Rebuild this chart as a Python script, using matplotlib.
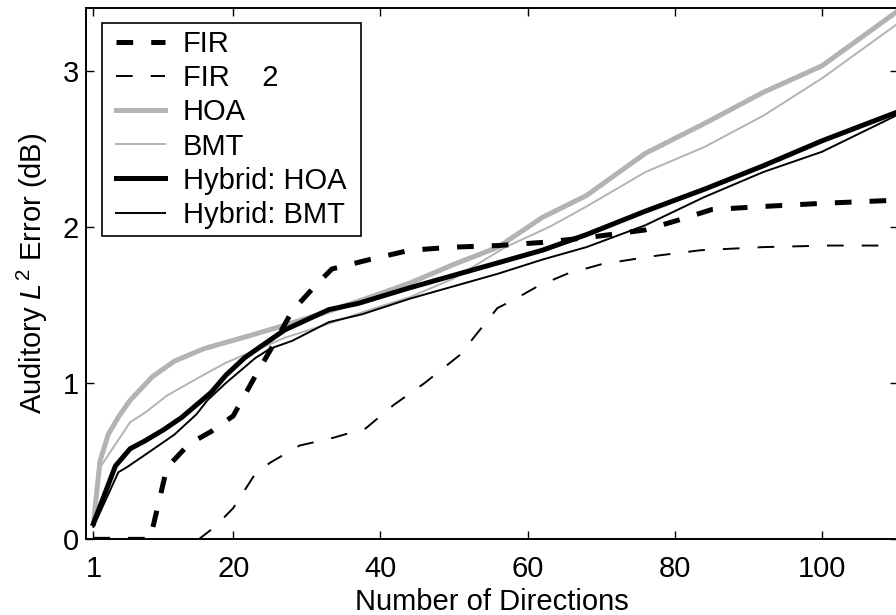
import matplotlib
matplotlib.use("Agg")
import matplotlib.pyplot as plt
from matplotlib.patches import Rectangle

plt.rcParams['font.family'] = ['Liberation Sans', 'DejaVu Sans']
plt.rcParams['mathtext.fontset'] = 'custom'
plt.rcParams['mathtext.rm'] = 'Liberation Sans'
plt.rcParams['mathtext.it'] = 'Liberation Sans:italic'
plt.rcParams['lines.scale_dashes'] = False

# ---- data ----
fir_x = [1, 8.7, 11, 14, 17, 20, 22.7, 25.4, 28, 30.9, 33.4, 38.5, 44, 50, 56, 62, 68, 76, 81, 85, 92, 100, 110]
fir_y = [0, 0, 0.46, 0.61, 0.69, 0.79, 1.02, 1.24, 1.46, 1.61, 1.73, 1.79, 1.85, 1.87, 1.88, 1.90, 1.93, 1.98, 2.05, 2.11, 2.13, 2.15, 2.17]

fir2_x = [1, 15.3, 17.5, 20, 23, 25, 29, 33.6, 38, 41.8, 46, 50.8, 53, 55.9, 58, 61.4, 65.4, 70, 76.7, 83.5, 92, 101, 110]
fir2_y = [0, 0, 0.08, 0.20, 0.42, 0.49, 0.60, 0.65, 0.71, 0.86, 1.00, 1.18, 1.31, 1.48, 1.53, 1.62, 1.70, 1.76, 1.81, 1.85, 1.87, 1.88, 1.88]

hoa_x = [1, 1.9, 3, 4.5, 6, 9, 12, 16, 19, 22, 27, 33, 38, 44, 50, 56, 62, 68, 76, 84, 92, 100, 110]
hoa_y = [0.10, 0.50, 0.67, 0.79, 0.89, 1.04, 1.14, 1.22, 1.26, 1.30, 1.37, 1.46, 1.54, 1.64, 1.76, 1.87, 2.06, 2.20, 2.47, 2.66, 2.86, 3.03, 3.37]

bmt_x = [1, 1.9, 6, 8, 11, 15.5, 19, 22, 27, 33, 38, 44, 50, 57, 63, 68, 76, 84, 92, 100, 110]
bmt_y = [0.10, 0.46, 0.75, 0.81, 0.92, 1.04, 1.13, 1.19, 1.29, 1.38, 1.46, 1.55, 1.67, 1.87, 2.00, 2.13, 2.35, 2.51, 2.71, 2.95, 3.29]

hyb_hoa_x = [1, 4, 6, 8, 10.5, 13, 15, 17, 19, 21.5, 23, 27, 33, 37, 44, 50, 56, 62, 68, 76, 84, 92, 100, 110]
hyb_hoa_y = [0.10, 0.47, 0.58, 0.63, 0.70, 0.78, 0.86, 0.94, 1.05, 1.16, 1.21, 1.34, 1.47, 1.51, 1.61, 1.69, 1.77, 1.85, 1.95, 2.10, 2.24, 2.39, 2.55, 2.73]

hyb_bmt_x = [1, 4.4, 5.5, 8, 12, 15, 16.5, 19, 21.5, 23, 25, 28, 33, 37.5, 44, 50, 56, 62, 68, 76, 84, 92, 100, 110]
hyb_bmt_y = [0.08, 0.43, 0.46, 0.54, 0.67, 0.80, 0.89, 1.00, 1.10, 1.16, 1.22, 1.27, 1.39, 1.44, 1.54, 1.62, 1.70, 1.79, 1.87, 2.01, 2.19, 2.35, 2.48, 2.71]

labels = ["FIR", "FIR    2", "HOA", "BMT", "Hybrid: HOA", "Hybrid: BMT"]
x_ticks = [1, 20, 40, 60, 80, 100]
y_ticks = [0, 1, 2, 3]

gray = '#b3b3b3'
FS = 21

fig = plt.figure(figsize=(8.96, 6.15), dpi=100)
ax = fig.add_axes([0.096, 0.123, 0.906, 0.864])

l1, = ax.plot(fir_x, fir_y, color='k', lw=3.6, dashes=(12, 13), zorder=3)
l2, = ax.plot(fir2_x, fir2_y, color='k', lw=1.4, dashes=(12, 13), zorder=3)
l3, = ax.plot(hoa_x, hoa_y, color=gray, lw=3.6, zorder=2)
l4, = ax.plot(bmt_x, bmt_y, color=gray, lw=1.4, zorder=2)
l5, = ax.plot(hyb_hoa_x, hyb_hoa_y, color='k', lw=3.6, zorder=4)
l6, = ax.plot(hyb_bmt_x, hyb_bmt_y, color='k', lw=1.4, zorder=4)

ax.set_xlim(0, 110.3)
ax.set_ylim(0, 3.4)
ax.set_xticks(x_ticks)
ax.set_yticks(y_ticks)
ax.tick_params(direction='in', length=6, width=1.0, top=True, right=True, labelsize=FS)
ax.tick_params(axis='x', pad=11)
ax.tick_params(axis='y', pad=5)
for s in ax.spines.values():
    s.set_linewidth(1.4)

ax.set_xlabel("Number of Directions", fontsize=FS, labelpad=4)
ax.set_ylabel("Auditory $\\mathit{L}^2$ Error (dB)", fontsize=FS, labelpad=9)

leg = ax.legend([l1, l2, l3, l4, l5, l6], labels, loc='upper left',
                bbox_to_anchor=(0.0283, 0.972), borderaxespad=0, fontsize=FS,
                frameon=False, handlelength=1.67,
                handletextpad=0.62, labelspacing=0.21, borderpad=0.25)
leg.set_zorder(6)

# frame around the legend, padded a little more horizontally than vertically
fig.canvas.draw()
bb = leg.get_window_extent().transformed(fig.transFigure.inverted())
dx = 7.0 / fig.bbox.width
frame = Rectangle((bb.x0 - dx, bb.y0), bb.width + 2 * dx, bb.height,
                  transform=fig.transFigure, facecolor='white', edgecolor='k',
                  linewidth=1.2, zorder=5, clip_on=False)
ax.add_artist(frame)

fig.savefig("out.png", dpi=100)
